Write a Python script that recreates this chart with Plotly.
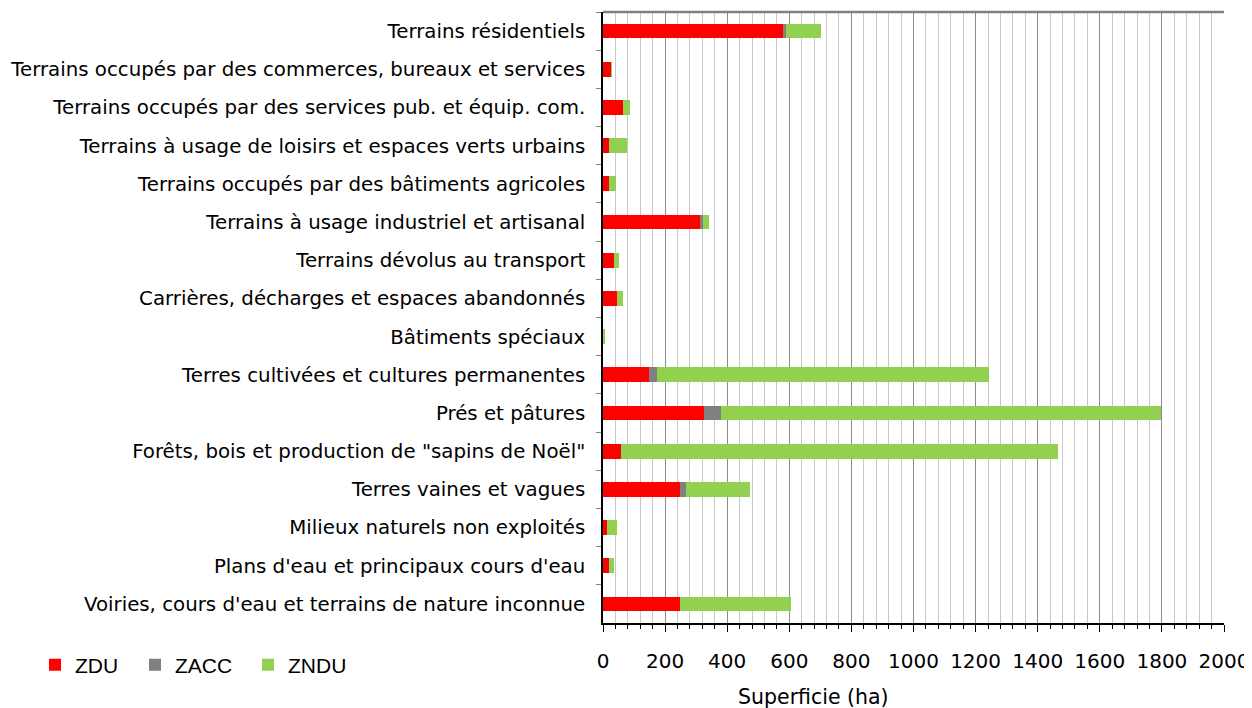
import plotly.graph_objects as go

categories = [
    "Terrains résidentiels",
    "Terrains occupés par des commerces, bureaux et services",
    "Terrains occupés par des services pub. et équip. com.",
    "Terrains à usage de loisirs et espaces verts urbains",
    "Terrains occupés par des bâtiments agricoles",
    "Terrains à usage industriel et artisanal",
    "Terrains dévolus au transport",
    "Carrières, décharges et espaces abandonnés",
    "Bâtiments spéciaux",
    "Terres cultivées et cultures permanentes",
    "Prés et pâtures",
    "Forêts, bois et production de \"sapins de Noël\"",
    "Terres vaines et vagues",
    "Milieux naturels non exploités",
    "Plans d'eau et principaux cours d'eau",
    "Voiries, cours d'eau et terrains de nature inconnue",
]
zdu = [581, 27, 65, 19, 19, 312, 34, 46, 1, 148, 325, 58, 248, 12, 19, 248]
zacc = [8, 0, 0, 0, 0, 9, 0, 0, 0, 26, 54, 0, 19, 0, 0, 0]
zndu = [114, 1, 21, 59, 22, 19, 18, 18, 3, 1069, 1417, 1407, 206, 33, 17, 358]
x_ticks = [0, 200, 400, 600, 800, 1000, 1200, 1400, 1600, 1800, 2000]

series = [("ZDU", zdu, "#FF0000"), ("ZACC", zacc, "#808080"), ("ZNDU", zndu, "#92D050")]
legend_names = ["legend", "legend2", "legend3"]

# page offset (body margin of the html page)
OFF = 8
FW, FH = 1252 - OFF, 708 - OFF
# target page pixel coords -> figure coords
L, R, T, B = 603 - OFF, 1224 - OFF, 12 - OFF, 623 - OFF
W, H = R - L, B - T
legend_px = [p - OFF for p in (35, 135, 248)]
legend_top = 644.5 - OFF

fig = go.Figure()
for (name, vals, col), lg in zip(series, legend_names):
    fig.add_trace(go.Bar(y=categories, x=vals, name=name, orientation="h", legend=lg,
                         marker=dict(color=col, line=dict(width=0))))

leg_y = -(legend_top - B) / H
leg_common = dict(orientation="h", y=leg_y, yanchor="top", xanchor="left",
                  font=dict(family="Liberation Sans", size=21, color="#000000"),
                  itemwidth=30, bgcolor="rgba(0,0,0,0)")

fig.update_layout(
    barmode="stack",
    bargap=0.615,
    width=FW, height=FH,
    margin=dict(l=L, r=FW - R, t=T, b=FH - B, autoexpand=False),
    plot_bgcolor="white", paper_bgcolor="white",
    font=dict(family="DejaVu Sans", size=20, color="#000000"),
    showlegend=True,
    legend=dict(x=(legend_px[0] - L) / W, **leg_common),
    legend2=dict(x=(legend_px[1] - L) / W, **leg_common),
    legend3=dict(x=(legend_px[2] - L) / W, **leg_common),
    xaxis=dict(range=[0, 2000], tickvals=x_ticks, showgrid=True, gridcolor="#8C8C8C", gridwidth=1,
               minor=dict(dtick=40, tick0=0, showgrid=True, gridcolor="#C8C8C8", gridwidth=1,
                          ticks="outside", ticklen=4, tickcolor="#000000"),
               showline=True, linecolor="#000000", linewidth=1.5,
               ticks="outside", ticklen=7, tickcolor="#000000",
               ticklabelstandoff=12,
               tickfont=dict(family="DejaVu Sans", size=20, color="#000000"),
               zeroline=False),
    yaxis=dict(autorange="reversed", showline=True, linecolor="#000000", linewidth=1.5,
               ticks="outside", ticklen=5, tickcolor="#808080", tickson="boundaries",
               ticklabelstandoff=12,
               tickfont=dict(family="DejaVu Sans", size=19.8, color="#000000")),
)
fig.add_annotation(text="Superficie (ha)", xref="paper", yref="paper",
                   x=(813 - OFF - L) / W, y=(B - (697 - OFF)) / H, xanchor="center", yanchor="middle",
                   showarrow=False, font=dict(family="DejaVu Sans", size=20.5, color="#000000"))
fig.add_shape(type="line", xref="paper", yref="paper", x0=0, x1=1, y0=1, y1=1,
              line=dict(color="#808080", width=2.5))

fig.write_html("out.html")
